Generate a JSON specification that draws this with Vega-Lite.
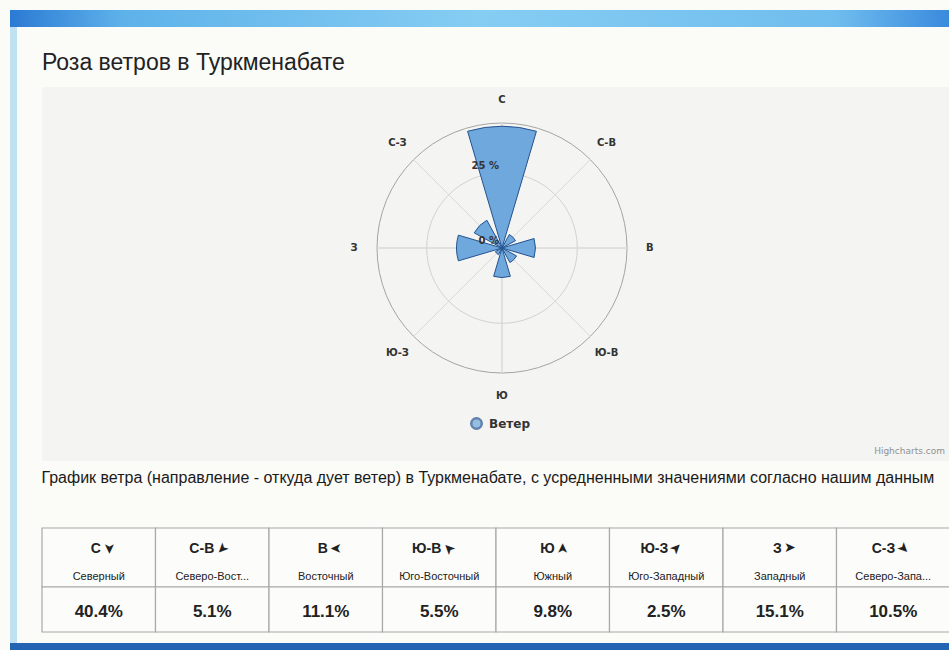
{
  "$schema": "https://vega.github.io/schema/vega-lite/v6.json",
  "padding": {"left": 10, "top": 10, "right": 0, "bottom": 0},
  "background": "#fbfbf8",
  "datasets": {
    "wind": [
      {"dir": "С", "name": "Северный", "deg": 0, "share": 0.404},
      {"dir": "С-В", "name": "Северо-Вост...", "deg": 45, "share": 0.051},
      {"dir": "В", "name": "Восточный", "deg": 90, "share": 0.111},
      {"dir": "Ю-В", "name": "Юго-Восточный", "deg": 135, "share": 0.055},
      {"dir": "Ю", "name": "Южный", "deg": 180, "share": 0.098},
      {"dir": "Ю-З", "name": "Юго-Западный", "deg": 225, "share": 0.025},
      {"dir": "З", "name": "Западный", "deg": 270, "share": 0.151},
      {"dir": "С-З", "name": "Северо-Запа...", "deg": 315, "share": 0.105}
    ]
  },
  "spacing": 0,
  "vconcat": [
    {
      "width": 939,
      "height": 17,
      "data": {"values": [{}]},
      "mark": {
        "type": "rect",
        "fill": {
          "gradient": "linear", "x1": 0, "x2": 1, "y1": 0, "y2": 0,
          "stops": [
            {"offset": 0, "color": "#2b7ad4"},
            {"offset": 0.12, "color": "#5eb2ea"},
            {"offset": 0.5, "color": "#86cdf3"},
            {"offset": 0.88, "color": "#6fbdee"},
            {"offset": 1, "color": "#3a8ade"}
          ]
        }
      }
    },
    {
      "spacing": 24,
      "hconcat": [
        {
          "width": 7,
          "height": 616,
          "view": {"fill": "#bfe1f1"},
          "data": {"values": [{}]},
          "mark": {"type": "point", "opacity": 0}
        },
        {
          "spacing": 0,
          "vconcat": [
            {
              "width": 908,
              "height": 25,
              "data": {"values": [{}]},
              "mark": {"type": "point", "opacity": 0}
            },
            {
              "title": {
                "text": "Роза ветров в Туркменабате",
                "anchor": "start",
                "font": "Liberation Sans",
                "fontSize": 23,
                "fontWeight": "normal",
                "color": "#222222",
                "offset": 12
              },
              "spacing": 0,
              "resolve": {"scale": {"color": "independent"}, "legend": {"color": "independent"}},
              "vconcat": [
                {
                  "spacing": 0,
                  "bounds": "flush",
                  "hconcat": [
                    {
                      "width": 290,
                      "height": 322,
                      "view": {"fill": "#f4f4f2"},
                      "data": {"values": [{}]},
                      "mark": {"type": "point", "opacity": 0}
                    },
                    {
                      "width": 340,
                      "height": 322,
                      "view": {"fill": "#f4f4f2"},
                      "data": {"name": "wind"},
                      "resolve": {"scale": {"theta": "independent"}},
                      "layer": [
                        {
                          "data": {"values": [{"r": 0.25}]},
                          "mark": {"type": "arc", "theta": 0, "theta2": 6.2832, "filled": false, "stroke": "#d2d2d2", "strokeWidth": 1},
                          "encoding": {
                            "radius": {"field": "r", "type": "quantitative", "scale": {"type": "linear", "domain": [0, 0.415], "range": [0, 125], "nice": false, "zero": true}}
                          }
                        },
                        {
                          "data": {"values": [{"r": 0.415}]},
                          "mark": {"type": "arc", "theta": 0, "theta2": 6.2832, "filled": false, "stroke": "#a4a4a4", "strokeWidth": 1},
                          "encoding": {
                            "radius": {"field": "r", "type": "quantitative", "scale": {"type": "linear", "domain": [0, 0.415], "range": [0, 125], "nice": false, "zero": true}}
                          }
                        },
                        {
                          "mark": {"type": "arc", "filled": false, "stroke": "#dadada", "strokeWidth": 1},
                          "encoding": {
                            "theta": {"field": "deg", "type": "quantitative", "stack": null, "scale": {"domain": [0, 360], "range": [0, 6.2832]}},
                            "theta2": {"field": "deg"},
                            "radius": {"datum": 0.415, "type": "quantitative", "scale": {"type": "linear", "domain": [0, 0.415], "range": [0, 125], "nice": false, "zero": true}}
                          }
                        },
                        {
                          "mark": {"type": "arc", "fill": "#6fa8dc", "stroke": "#24528e", "strokeWidth": 1},
                          "encoding": {
                            "theta": {"field": "dir", "type": "nominal", "sort": null, "scale": {"type": "band", "domain": ["С", "С-В", "В", "Ю-В", "Ю", "Ю-З", "З", "С-З"], "range": [-0.3927, 5.8905], "paddingInner": 0.27, "paddingOuter": 0.135}},
                            "radius": {"field": "share", "type": "quantitative", "scale": {"type": "linear", "domain": [0, 0.415], "range": [0, 125], "nice": false, "zero": true}}
                          }
                        },
                        {
                          "mark": {"type": "text", "font": "DejaVu Sans", "fontSize": 10, "fontWeight": "bold", "fill": "#333333"},
                          "encoding": {
                            "theta": {"field": "dir", "type": "nominal", "sort": null, "bandPosition": 0.5, "scale": {"type": "band", "domain": ["С", "С-В", "В", "Ю-В", "Ю", "Ю-З", "З", "С-З"], "range": [-0.3927, 5.8905], "paddingInner": 0.27, "paddingOuter": 0.135}},
                            "radius": {"datum": 0.491, "type": "quantitative", "scale": {"type": "linear", "domain": [0, 0.415], "range": [0, 125], "nice": false, "zero": true}},
                            "text": {"field": "dir"}
                          }
                        },
                        {
                          "data": {"values": [{"r": 0, "t": "0 %"}, {"r": 0.25, "t": "25 %"}]},
                          "mark": {"type": "text", "font": "DejaVu Sans", "fontSize": 10, "fontWeight": "bold", "fill": "#333333", "align": "right", "baseline": "alphabetic", "dx": -3, "dy": -4},
                          "encoding": {
                            "theta": {"datum": 0, "type": "quantitative", "scale": {"domain": [0, 360], "range": [0, 6.2832]}},
                            "radius": {"field": "r", "type": "quantitative", "scale": {"type": "linear", "domain": [0, 0.415], "range": [0, 125], "nice": false, "zero": true}},
                            "text": {"field": "t"}
                          }
                        }
                      ]
                    },
                    {
                      "width": 278,
                      "height": 322,
                      "view": {"fill": "#f4f4f2"},
                      "data": {"values": [{}]},
                      "mark": {"type": "point", "opacity": 0}
                    }
                  ]
                },
                {
                  "width": 908,
                  "height": 52,
                  "view": {"fill": "#f4f4f2"},
                  "data": {"values": [{"s": "Ветер"}]},
                  "mark": {"type": "point", "filled": true, "size": 0, "shape": "circle"},
                  "encoding": {
                    "color": {
                      "field": "s",
                      "type": "nominal",
                      "scale": {"range": ["#6fa8dc"]},
                      "legend": {
                        "orient": "none",
                        "legendX": 428,
                        "legendY": 8,
                        "title": null,
                        "symbolType": "circle",
                        "symbolSize": 110,
                        "symbolStrokeColor": "#24528e",
                        "symbolStrokeWidth": 2.5,
                        "labelFont": "DejaVu Sans",
                        "labelFontSize": 12,
                        "labelFontWeight": "bold",
                        "labelColor": "#333333",
                        "labelOffset": 6
                      }
                    }
                  },
                  "title": {
                    "text": "Highcharts.com",
                    "orient": "bottom",
                    "anchor": "end",
                    "offset": -14,
                    "font": "DejaVu Sans",
                    "fontSize": 9,
                    "fontWeight": "normal",
                    "color": "#909090",
                    "dx": -5
                  }
                }
              ]
            },
            {
              "width": 908,
              "height": 9,
              "data": {"values": [{}]},
              "mark": {"type": "point", "opacity": 0}
            },
            {
              "title": {
                "text": "График ветра (направление - откуда дует ветер) в Туркменабате, с усредненными значениями согласно нашим данным",
                "anchor": "start",
                "font": "Liberation Sans",
                "fontSize": 16,
                "fontWeight": "normal",
                "color": "#1a1a1a",
                "offset": 41,
                "limit": 906
              },
              "spacing": 0,
              "bounds": "flush",
              "vconcat": [
                {
                  "width": 908,
                  "height": 59,
                  "data": {"name": "wind"},
                  "encoding": {
                    "x": {"field": "dir", "type": "nominal", "sort": null, "axis": null, "scale": {"paddingInner": 0, "paddingOuter": 0}}
                  },
                  "layer": [
                    {"mark": {"type": "rect", "fill": "#fcfcfa", "stroke": "#a8a8a8", "strokeWidth": 1.2}},
                    {
                      "mark": {"type": "text", "font": "Liberation Sans", "fontSize": 14, "fontWeight": "bold", "fill": "#222222", "align": "right", "dx": 2, "dy": -9},
                      "encoding": {"text": {"field": "dir"}}
                    },
                    {
                      "mark": {"type": "text", "text": "➤", "font": "DejaVu Sans", "fontSize": 14, "fill": "#222222", "radius": 13.5, "theta": 0.84},
                      "encoding": {
                        "angle": {"field": "deg", "type": "quantitative", "scale": {"domain": [0, 360], "range": [90, 450]}, "legend": null}
                      }
                    },
                    {
                      "mark": {"type": "text", "font": "Liberation Sans", "fontSize": 11, "fill": "#222222", "dy": 19},
                      "encoding": {"text": {"field": "name"}}
                    }
                  ]
                },
                {
                  "width": 908,
                  "height": 45,
                  "data": {"name": "wind"},
                  "encoding": {
                    "x": {"field": "dir", "type": "nominal", "sort": null, "axis": null, "scale": {"paddingInner": 0, "paddingOuter": 0}}
                  },
                  "layer": [
                    {"mark": {"type": "rect", "fill": "#fcfcfa", "stroke": "#a8a8a8", "strokeWidth": 1.2}},
                    {
                      "mark": {"type": "text", "font": "Liberation Sans", "fontSize": 17, "fontWeight": "bold", "fill": "#222222", "dy": 2},
                      "encoding": {"text": {"field": "share", "type": "quantitative", "format": ".1%"}}
                    }
                  ]
                }
              ]
            }
          ]
        }
      ]
    },
    {
      "width": 939,
      "height": 7,
      "view": {"fill": "#2563b3"},
      "data": {"values": [{}]},
      "mark": {"type": "point", "opacity": 0}
    }
  ],
  "config": {
    "view": {"stroke": null},
    "concat": {"spacing": 0}
  }
}
